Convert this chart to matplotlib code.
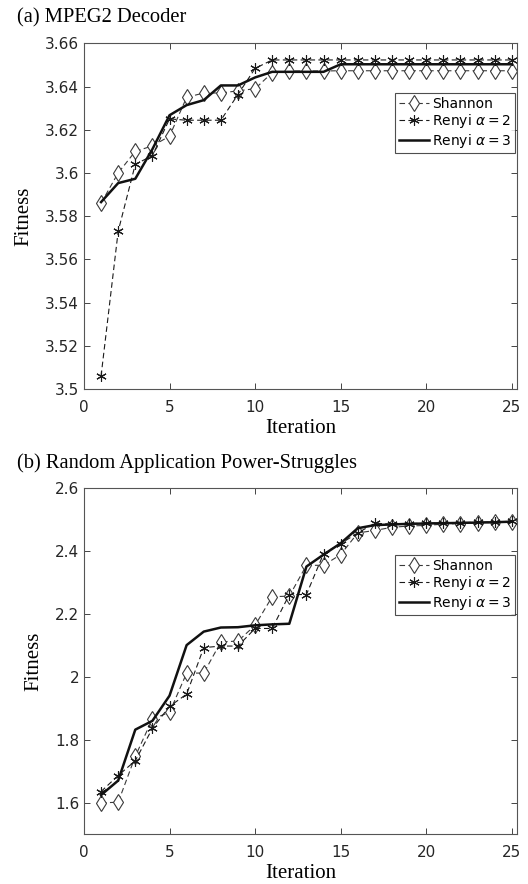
import numpy as np
import matplotlib
matplotlib.use("Agg")
import matplotlib.pyplot as plt

iterations = list(range(1, 26))

# (a) MPEG2 Decoder
mpeg_shannon = [3.586, 3.600, 3.610, 3.6125, 3.617, 3.635, 3.637, 3.637, 3.638, 3.639,
                3.6464, 3.6472, 3.6472, 3.6472, 3.6473, 3.6473, 3.6473, 3.6473, 3.6473, 3.6473,
                3.6473, 3.6473, 3.6473, 3.6473, 3.6473]
mpeg_renyi2 = [3.506, 3.573, 3.604, 3.608, 3.625, 3.6244, 3.6244, 3.6244, 3.6363, 3.6484,
               3.6523, 3.6523, 3.6523, 3.6523, 3.6523, 3.6523, 3.6523, 3.6523, 3.6523, 3.6523,
               3.6523, 3.6523, 3.6523, 3.6523, 3.6523]
mpeg_renyi3 = [3.5865, 3.5953, 3.5973, 3.611, 3.6267, 3.6314, 3.6337, 3.6405, 3.6405, 3.6442,
               3.6468, 3.6468, 3.6468, 3.6468, 3.6503, 3.6503, 3.6503, 3.6503, 3.6503, 3.6503,
               3.6503, 3.6503, 3.6503, 3.6503, 3.6503]

# (b) Random Application Power-Struggles
rand_shannon = [1.599, 1.601, 1.747, 1.866, 1.887, 2.012, 2.012, 2.111, 2.114, 2.164,
                2.255, 2.257, 2.355, 2.355, 2.389, 2.458, 2.466, 2.476, 2.480, 2.482,
                2.486, 2.488, 2.490, 2.492, 2.494]
rand_renyi2 = [1.635, 1.686, 1.733, 1.836, 1.906, 1.945, 2.093, 2.098, 2.098, 2.154,
               2.154, 2.262, 2.262, 2.392, 2.424, 2.458, 2.489, 2.486, 2.488, 2.489,
               2.490, 2.491, 2.492, 2.493, 2.495]
rand_renyi3 = [1.624, 1.670, 1.832, 1.860, 1.940, 2.101, 2.144, 2.157, 2.158, 2.164,
               2.167, 2.169, 2.351, 2.389, 2.425, 2.473, 2.483, 2.485, 2.487, 2.488,
               2.489, 2.490, 2.491, 2.492, 2.494]

panels = [
    ("(a) MPEG2 Decoder", mpeg_shannon, mpeg_renyi2, mpeg_renyi3,
     (3.5, 3.66), [3.5, 3.52, 3.54, 3.56, 3.58, 3.6, 3.62, 3.64, 3.66],
     ["3.5", "3.52", "3.54", "3.56", "3.58", "3.6", "3.62", "3.64", "3.66"], 0.855),
    ("(b) Random Application Power-Struggles", rand_shannon, rand_renyi2, rand_renyi3,
     (1.5, 2.6), [1.6, 1.8, 2.0, 2.2, 2.4, 2.6],
     ["1.6", "1.8", "2", "2.2", "2.4", "2.6"], 0.806),
]

serif = "Liberation Serif"
axcol = "#262626"

fig = plt.figure(figsize=(5.28, 8.84), dpi=100)
rects = [[0.159, 0.560, 0.820, 0.391], [0.159, 0.0566, 0.820, 0.391]]

for rect, (title, sh, r2, r3, ylim, yt, ytl, leg_top) in zip(rects, panels):
    ax = fig.add_axes(rect)
    ax.plot(iterations, sh, linestyle="--", dashes=(5, 3), color="#3a3a3a", lw=0.8,
            marker="d", markersize=8, markerfacecolor="white", markeredgecolor="#3a3a3a",
            markeredgewidth=0.8, label="Shannon")
    ax.plot(iterations, r2, linestyle="--", dashes=(5, 3), color="#1a1a1a", lw=0.8,
            marker=(6, 2, 0), markersize=7.5, markeredgewidth=0.8, markeredgecolor="#1a1a1a",
            label="Renyi $\\alpha = 2$")
    ax.plot(iterations, r3, linestyle="-", color="#111111", lw=1.8,
            label="Renyi $\\alpha = 3$")
    ax.set_xlim(0, 25.3)
    ax.set_ylim(*ylim)
    ax.set_xticks([0, 5, 10, 15, 20, 25])
    ax.set_yticks(yt)
    ax.set_yticklabels(ytl)
    ax.tick_params(direction="in", top=True, right=True, labelsize=11,
                   colors=axcol, length=4, width=0.6)
    ax.tick_params(axis="x", pad=8)
    for s in ax.spines.values():
        s.set_color("#555555")
        s.set_linewidth(0.8)
    ax.set_xlabel("Iteration", fontfamily=serif, fontsize=15, labelpad=3)
    ax.set_ylabel("Fitness", fontfamily=serif, fontsize=15, labelpad=8)
    leg = ax.legend(loc="upper right", bbox_to_anchor=(0.995, leg_top), fontsize=10,
                    handlelength=2.2, handletextpad=0.2, borderpad=0.25, labelspacing=0.1,
                    frameon=True, fancybox=False, borderaxespad=0)
    leg.get_frame().set_edgecolor("#222222")
    leg.get_frame().set_linewidth(0.8)
    ax.text(-0.155, 1.045, title, transform=ax.transAxes, fontfamily=serif, fontsize=14.8,
            ha="left", va="bottom")

fig.savefig("out.png", dpi=100)
